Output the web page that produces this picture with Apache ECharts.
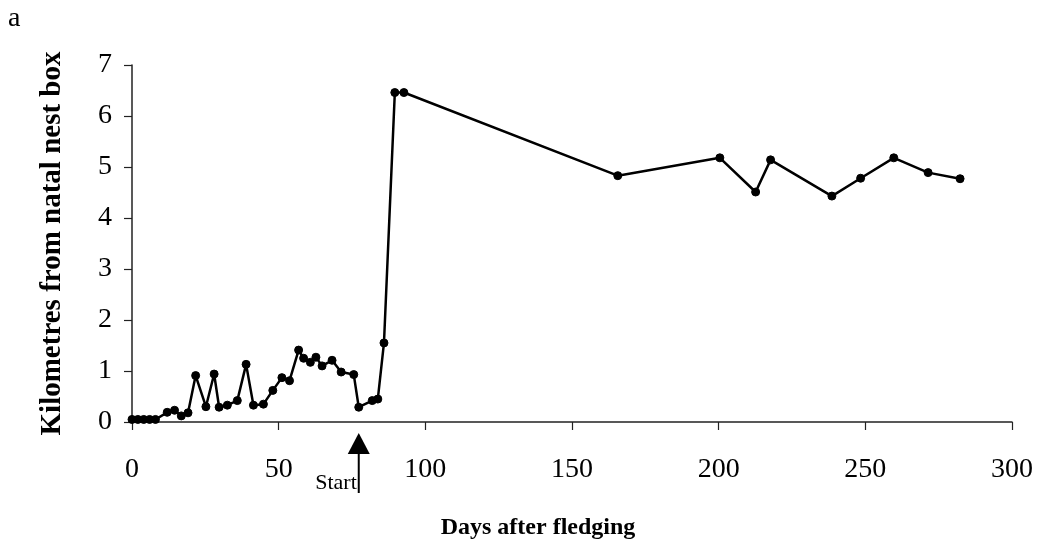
<!DOCTYPE html>
<html>
<head>
<meta charset="utf-8">
<script src="https://cdn.jsdelivr.net/npm/echarts@6/dist/echarts.min.js"></script>
<style>
html,body{margin:0;padding:0;background:#fff;}
#c{width:1039px;height:548px;}
</style>
</head>
<body>
<div id="c"></div>
<script>
const days = [0,2,4,6,8,12,14.5,16.8,19.1,21.7,25.2,28,29.7,32.5,35.9,38.9,41.4,44.8,48,51.1,53.7,56.8,58.5,60.8,62.7,64.8,68.2,71.3,75.6,77.3,81.9,83.8,85.9,89.6,92.7,165.6,200.4,212.6,217.7,238.6,248.4,259.7,271.4,282.3];
const km = [0.05,0.05,0.05,0.05,0.05,0.19,0.23,0.12,0.18,0.91,0.30,0.94,0.29,0.33,0.42,1.13,0.33,0.35,0.62,0.87,0.81,1.41,1.25,1.17,1.27,1.10,1.21,0.98,0.93,0.29,0.42,0.45,1.55,6.46,6.46,4.83,5.18,4.51,5.14,4.43,4.78,5.18,4.89,4.77];
const xTicks = [0,50,100,150,200,250,300];
const yTicks = [0,1,2,3,4,5,6,7];
const startDay = 77.3;
const startLabel = 'Start';
const panelLabel = 'a';
const xTitle = 'Days after fledging';
const yTitle = 'Kilometres from natal nest box';

const serif = '"Liberation Serif", "DejaVu Serif", serif';
const chart = echarts.init(document.getElementById('c'), null, {renderer:'canvas'});
const option = {
  backgroundColor:'#fff',
  animation:false,
  grid:{left:132,right:27,top:65,bottom:126},
  xAxis:{
    type:'value', min:xTicks[0], max:xTicks[xTicks.length-1], interval:50,
    axisLine:{show:true,lineStyle:{color:'#222',width:1.5}},
    axisTick:{show:true,inside:false,length:8,lineStyle:{color:'#222',width:1.2}},
    splitLine:{show:false},
    axisLabel:{color:'#000',fontFamily:serif,fontSize:28,margin:34},
    name:xTitle, nameLocation:'middle', nameGap:94,
    nameTextStyle:{color:'#000',fontFamily:serif,fontSize:24,fontWeight:'bold',padding:[0,68,0,0]}
  },
  yAxis:{
    type:'value', min:yTicks[0], max:yTicks[yTicks.length-1], interval:1,
    axisLine:{show:true,lineStyle:{color:'#222',width:1.5}},
    axisTick:{show:true,inside:false,length:8,lineStyle:{color:'#222',width:1.2}},
    splitLine:{show:false},
    axisLabel:{color:'#000',fontFamily:serif,fontSize:28,margin:20},
    name:yTitle, nameLocation:'middle', nameGap:65, nameRotate:90,
    nameTextStyle:{color:'#000',fontFamily:serif,fontSize:29,fontWeight:'bold'}
  },
  series:[{
    type:'line',
    data:days.map((d,i)=>[d,km[i]]),
    symbol:'circle', symbolSize:8,
    lineStyle:{color:'#000',width:2.5},
    itemStyle:{color:'#000',borderColor:'#000'},
    z:3
  }]
};
chart.setOption(option);
const px = chart.convertToPixel({xAxisIndex:0}, startDay);
const axisY = chart.convertToPixel({yAxisIndex:0}, 0);
chart.setOption({
  graphic:[
    {type:'polygon',shape:{points:[[px,axisY+11],[px-11,axisY+32],[px+11,axisY+32]]},style:{fill:'#000'}},
    {type:'line',shape:{x1:px,y1:axisY+30,x2:px,y2:axisY+71},style:{stroke:'#000',lineWidth:2}},
    {type:'text',x:px-2,y:axisY+72,style:{text:startLabel,fill:'#000',font:'22px '+serif,align:'right',verticalAlign:'bottom'}},
    {type:'text',x:8,y:19,style:{text:panelLabel,fill:'#000',font:'28px '+serif,align:'left',verticalAlign:'middle'}}
  ]
});
</script>
</body>
</html>
